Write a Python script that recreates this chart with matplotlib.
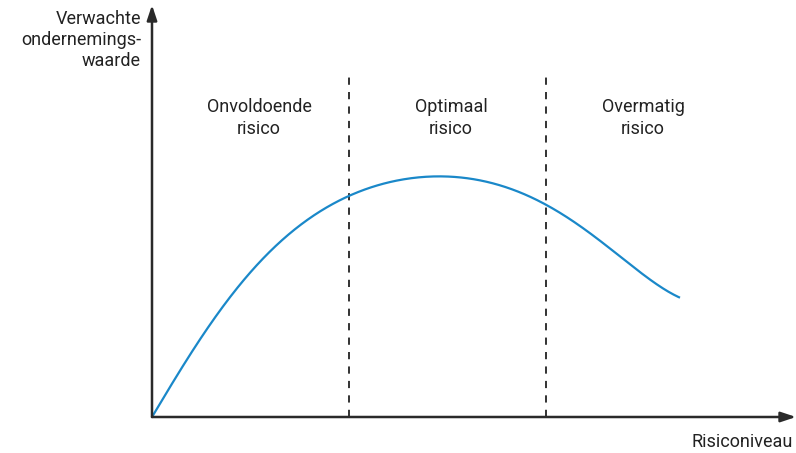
import matplotlib
matplotlib.use("Agg")
import matplotlib.pyplot as plt
import numpy as np
from matplotlib import font_manager

# Curve (x: risk level, y: expected firm value), arbitrary units
risk = [0, 15, 31, 48, 65, 81, 98, 116, 141, 168, 197, 226, 255, 281, 321, 355, 393, 421, 445, 471, 498, 528]
value = [0, 27, 52, 77, 102, 124, 144, 162, 187, 205, 221, 233, 240, 241, 235, 227, 214, 199, 180, 155, 137, 120]

boundaries = [197, 394]
region_labels = ["Onvoldoende\nrisico", "Optimaal\nrisico", "Overmatig\nrisico"]
region_centers = [107, 299, 491]
ylabel = "Verwachte\nondernemings-\nwaarde"
xlabel = "Risiconiveau"

names = {f.name for f in font_manager.fontManager.ttflist}
fam = "Liberation Sans Narrow" if "Liberation Sans Narrow" in names else "Roboto"
plt.rcParams['font.family'] = [fam, 'DejaVu Sans']

W, H = 796, 453
fig = plt.figure(figsize=(W / 100, H / 100), dpi=100)
x0, y0, x1, y1 = 152, 417, 796, 5
ax = fig.add_axes([x0 / W, (H - y0) / H, (x1 - x0) / W, (y0 - y1) / H])
ax.set_xlim(0, x1 - x0)
ax.set_ylim(0, y0 - y1)
ax.axis('off')

# smooth rendering of the read points (least-squares smoothing, pinned at origin)
xr = np.array(risk, float)
yr = np.array(value, float)
wts = np.ones_like(xr)
wts[0] = 20
coef = np.polyfit(xr, yr, 6, w=wts)
cx = np.linspace(xr[0], xr[-1], 500)
cy = np.polyval(coef, cx)
cy -= np.polyval(coef, 0) * (1 - cx / cx[-1])
ax.plot(cx, cy, color="#1a88c9", lw=1.6, solid_capstyle='butt', clip_on=False, zorder=3)

# dashed boundaries
for b in boundaries:
    ax.plot([b, b], [0, 343], color="#222222", lw=1.3, linestyle=(0, (4, 4)), clip_on=False)

# axes with arrows
ax.annotate("", xy=(0, y0 - y1), xytext=(0, 0),
            arrowprops=dict(arrowstyle="-|>,head_length=0.9,head_width=0.3", color="#2a2a2a",
                            lw=1.8, shrinkA=0, shrinkB=0))
ax.annotate("", xy=(x1 - x0, 0), xytext=(0, 0),
            arrowprops=dict(arrowstyle="-|>,head_length=0.9,head_width=0.3", color="#2a2a2a",
                            lw=1.8, shrinkA=0, shrinkB=0))

for c, lab in zip(region_centers, region_labels):
    ax.text(c, 299, lab, ha='center', va='center', fontsize=13, color="#222222", linespacing=1.35)

fig.text(141 / W, 1 - 40 / H, ylabel, ha='right', va='center', fontsize=13, color="#222222",
         linespacing=1.25)
fig.text(793 / W, 1 - 442 / H, xlabel, ha='right', va='center', fontsize=13, color="#222222")

fig.savefig("out.png", dpi=100)
